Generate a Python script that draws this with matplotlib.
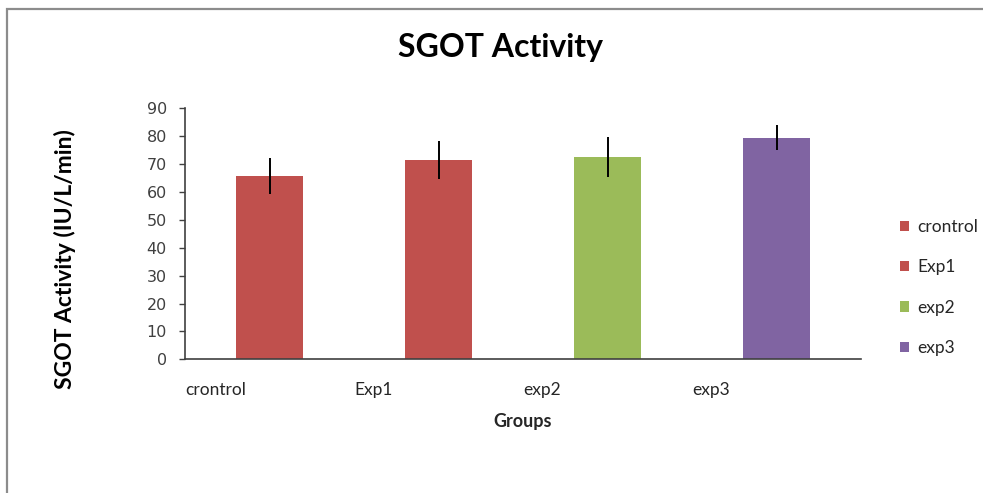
import matplotlib
matplotlib.use("Agg")
import matplotlib.pyplot as plt
from matplotlib.patches import Rectangle

# values
groups = ["crontrol", "Exp1", "exp2", "exp3"]
means = [65.8, 71.4, 72.5, 79.4]
errors = [6.4, 6.7, 7.3, 4.5]
colors = ["#C0504D", "#C0504D", "#9BBB59", "#8064A2"]
yticks = list(range(0, 91, 10))

fig = plt.figure(figsize=(9.83, 4.93), dpi=100)

# outer chart frame (right and bottom edges are cut off in the original)
fig.patches.append(Rectangle((7 / 983, -0.05), 1.1, 1 - 9 / 493 + 0.05,
                             transform=fig.transFigure, fill=False,
                             edgecolor="#8c8c8c", linewidth=1.6))

ax = fig.add_axes([185 / 983, 1 - 359.3 / 493, 676 / 983, 251 / 493])

for i, (g, m, e, c) in enumerate(zip(groups, means, errors, colors)):
    ax.bar(i, m, width=0.4, color=c, label=g, zorder=2)
    ax.errorbar(i, m, yerr=e, fmt="none", ecolor="black", elinewidth=1.4,
                capsize=0, zorder=3)

ax.set_xlim(-0.5, len(groups) - 0.5)
ax.set_ylim(0, 90)
ax.set_yticks(yticks)
ax.tick_params(axis="y", length=4, width=1, color="#404040", pad=9,
               labelsize=11.5, labelcolor="#404040")
for lbl in ax.get_yticklabels():
    lbl.set_family("DejaVu Sans")

# category labels sit at the left edge of each slot
ax.set_xticks([i - 0.5 for i in range(len(groups))])
ax.set_xticklabels(groups, ha="left", family="Lato", fontsize=12.5,
                   color="#262626")
ax.tick_params(axis="x", length=0, pad=16.5)

for side in ("top", "right"):
    ax.spines[side].set_visible(False)
for side in ("left", "bottom"):
    ax.spines[side].set_color("#404040")
    ax.spines[side].set_linewidth(1.2)

fig.text(501 / 983, 1 - 48 / 493, "SGOT Activity", ha="center", va="center",
         family="Lato", fontweight="bold", fontsize=23)
fig.text(523 / 983, 1 - 421 / 493, "Groups", ha="center", va="center",
         family="Lato", fontweight="bold", fontsize=13, color="#262626")
fig.text(65 / 983, 1 - 259 / 493, "SGOT Activity (IU/L/min)", rotation=90,
         ha="center", va="center", family="Lato", fontweight="bold",
         fontsize=16.5)

fig.legend(loc="center left", bbox_to_anchor=(884 / 983, 1 - 287.5 / 493),
           frameon=False, prop={"family": "Lato", "size": 12.5},
           handlelength=0.55, handleheight=0.55, handletextpad=0.45,
           labelspacing=1.4, labelcolor="#262626")

fig.savefig("out.png", dpi=100)
